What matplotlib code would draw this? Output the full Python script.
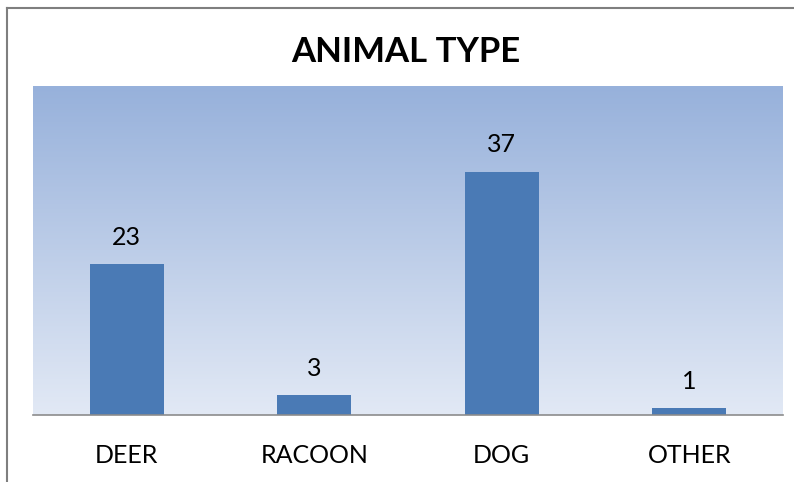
import numpy as np
import matplotlib.pyplot as plt
from matplotlib.lines import Line2D

animals = ["DEER", "RACOON", "DOG", "OTHER"]
counts = [23, 3, 37, 1]

W, H = 794, 482
fig = plt.figure(figsize=(W / 100, H / 100), dpi=100)
plt.rcParams['font.family'] = ['Lato', 'DejaVu Sans']

# plot area in pixels: left 33, right 783, top 86, bottom 415
ax = fig.add_axes([33 / W, 1 - 415 / H, 750 / W, 329 / H])

x = np.arange(len(animals))
ax.set_xlim(-0.5, len(animals) - 0.5)
ax.set_ylim(0, 50)

# gradient background
grad = np.linspace(0, 1, 256).reshape(-1, 1)
top = np.array([0x97, 0xb1, 0xdb]) / 255
bot = np.array([0xe2, 0xe9, 0xf5]) / 255
img = top + (bot - top) * grad[:, :, None]
ax.imshow(img, extent=(-0.5, len(animals) - 0.5, 0, 50), aspect="auto", zorder=0)

bars = ax.bar(x, counts, width=0.395, color="#4a7ab5", zorder=2)
for b, v in zip(bars, counts):
    ax.text(b.get_x() + b.get_width() / 2, v + 2.3, str(v), ha="center", va="bottom",
            fontsize=18, color="black")

ax.set_xticks(x)
ax.set_xticklabels(animals, fontsize=18)
ax.tick_params(axis="x", length=0, pad=21)
ax.set_yticks([])
for s in ["top", "left", "right"]:
    ax.spines[s].set_visible(False)
ax.spines["bottom"].set_color("#8c8c8c")
ax.spines["bottom"].set_linewidth(1.2)

fig.text(406 / W, 1 - 52 / H, "ANIMAL TYPE", ha="center", va="center",
         fontsize=25, fontweight="bold")

# outer frame (left and top edges)
fig.add_artist(Line2D([7 / W, 7 / W], [0, 1 - 8 / H], color="#7f7f7f", lw=1.5))
fig.add_artist(Line2D([7 / W, 1], [1 - 8 / H, 1 - 8 / H], color="#7f7f7f", lw=1.5))

fig.savefig("out.png", dpi=100)
